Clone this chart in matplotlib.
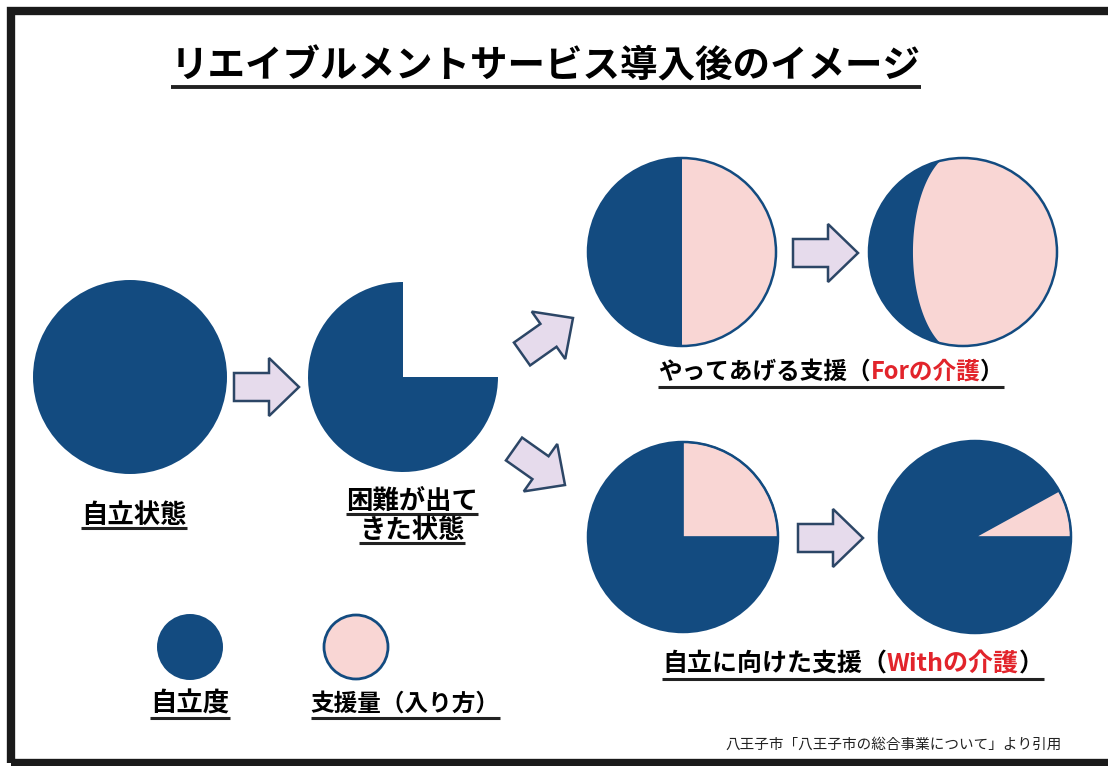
import numpy as np
import matplotlib.pyplot as plt
from matplotlib.patches import Circle, Wedge, Polygon, FancyArrow, Rectangle

plt.rcParams['font.family'] = ['Noto Sans CJK JP', 'DejaVu Sans']

W, H = 1108, 766
NAVY = '#134b80'
PINK = '#f9d6d4'
ARROW_FC = '#e6dbec'
ARROW_EC = '#2c4666'
RED = '#e2242b'

# 文字・値
title = 'リエイブルメントサービス導入後のイメージ'
state_labels = ['自立状態', '困難が出て\nきた状態']
state_share = [1.0, 0.75]      # 自立度 (青の割合)
for_share = [0.5, 0.8]         # やってあげる支援: 支援量の割合
with_share = [0.25, 0.08]      # 自立に向けた支援: 支援量の割合
for_label = [('やってあげる支援（', 'black'), ('Forの介護', RED), ('）', 'black')]
with_label = [('自立に向けた支援（', 'black'), ('Withの介護', RED), ('）', 'black')]
legend_labels = ['自立度', '支援量（入り方）']
source = '八王子市「八王子市の総合事業について」より引用'


def Y(y):
    # 画像座標(上から) -> データ座標
    return H - y


fig = plt.figure(figsize=(W / 100, H / 100), dpi=100)
ax = fig.add_axes([0, 0, 1, 1])
ax.set_xlim(0, W)
ax.set_ylim(0, H)
ax.axis('off')
renderer = fig.canvas.get_renderer()

# 外枠
ax.add_patch(Rectangle((11, Y(763)), 1200, 752, fill=False, ec='#1a1a1a', lw=6))


def label(cx, y, parts, size, ul_gap=13, ul_lw=2.2):
    texts = []
    x = 0
    for s, c in parts:
        t = ax.text(x, y, s, color=c, fontsize=size, fontweight='bold',
                    ha='left', va='center')
        w = t.get_window_extent(renderer).width
        texts.append((t, x))
        x += w
    x0 = cx - x / 2
    for t, off in texts:
        t.set_x(x0 + off)
    ax.plot([x0, x0 + x], [y - ul_gap, y - ul_gap], color='#222222', lw=ul_lw,
            solid_capstyle='butt')


# タイトル
label(546, Y(66), [(title, 'black')], 27, ul_gap=21, ul_lw=2.8)


def arrow(x0, y0, x1, y1):
    ax.add_patch(FancyArrow(x0, Y(y0), x1 - x0, Y(y1) - Y(y0), width=28,
                            head_width=58, head_length=30,
                            length_includes_head=True,
                            fc=ARROW_FC, ec=ARROW_EC, lw=1.8))


# 自立状態 / 困難が出てきた状態
states = [(130, 377, 97), (403, 377, 95)]
for (cx, cy, r), share in zip(states, state_share):
    ax.add_patch(Wedge((cx, Y(cy)), r, 90, 90 + 360 * share, fc=NAVY, ec='none'))

label(134, Y(515), [(state_labels[0], 'black')], 19)
for i, line in enumerate(state_labels[1].split('\n')):
    label(412, Y(501 + 29 * i), [(line, 'black')], 19, ul_gap=13)

arrow(234, 387, 299, 387)
arrow(522, 354, 573, 318)
arrow(514, 449, 565, 485)

# やってあげる支援 (For)
cx, cy, r = 682, 252, 94
ax.add_patch(Circle((cx, Y(cy)), r, fc=NAVY, ec='none'))
ax.add_patch(Wedge((cx, Y(cy)), r, 90 - 360 * for_share[0], 90, fc=PINK, ec='none'))
ax.add_patch(Circle((cx, Y(cy)), r, fill=False, ec=NAVY, lw=1.8))

arrow(793, 253, 858, 253)

cx, cy, r = 963, 252, 94
ax.add_patch(Circle((cx, Y(cy)), r, fc=NAVY, ec='none'))
clip = Circle((cx, Y(cy)), r, transform=ax.transData)
a = r * (1 - for_share[1]) * 2.6
t = np.radians(np.linspace(90, 270, 100))
ex = cx - 2
pts = np.column_stack([ex + a * np.cos(t), Y(cy) + 102 * np.sin(t)])
pts = np.vstack([pts, [[cx + 2 * r, Y(cy) - 102], [cx + 2 * r, Y(cy) + 102]]])
crescent = Polygon(pts, closed=True, fc=PINK, ec=NAVY, lw=1.2)
ax.add_patch(crescent)
crescent.set_clip_path(clip)
ax.add_patch(Circle((cx, Y(cy)), r, fill=False, ec=NAVY, lw=1.8))

label(831, Y(372), for_label, 17, ul_gap=15)

# 自立に向けた支援 (With)
cx, cy, r = 683, 537, 95
ax.add_patch(Circle((cx, Y(cy)), r, fc=NAVY, ec='none'))
ax.add_patch(Wedge((cx, Y(cy)), r, 0, 360 * with_share[0], fc=PINK, ec=NAVY, lw=1.2))
ax.add_patch(Circle((cx, Y(cy)), r, fill=False, ec=NAVY, lw=1.8))

arrow(798, 538, 863, 538)

cx, cy, r = 975, 537, 96
ax.add_patch(Circle((cx, Y(cy)), r, fc=NAVY, ec='none'))
ax.add_patch(Wedge((cx, Y(cy)), r, 0, 360 * with_share[1], fc=PINK, ec=NAVY, lw=1.2))
ax.add_patch(Circle((cx, Y(cy)), r, fill=False, ec=NAVY, lw=1.8))

label(853, Y(664), with_label, 18, ul_gap=15)

# 凡例
ax.add_patch(Circle((190, Y(647)), 33, fc=NAVY, ec='none'))
ax.add_patch(Circle((356, Y(647)), 32, fc=PINK, ec=NAVY, lw=2))
label(190, Y(704), [(legend_labels[0], 'black')], 19, ul_gap=14)
label(405, Y(704), [(legend_labels[1], 'black')], 17, ul_gap=14)

# 出典
ax.text(1062, Y(745), source, fontsize=10.5, ha='right', va='center', color='#222222')

fig.savefig('out.png', dpi=100)
